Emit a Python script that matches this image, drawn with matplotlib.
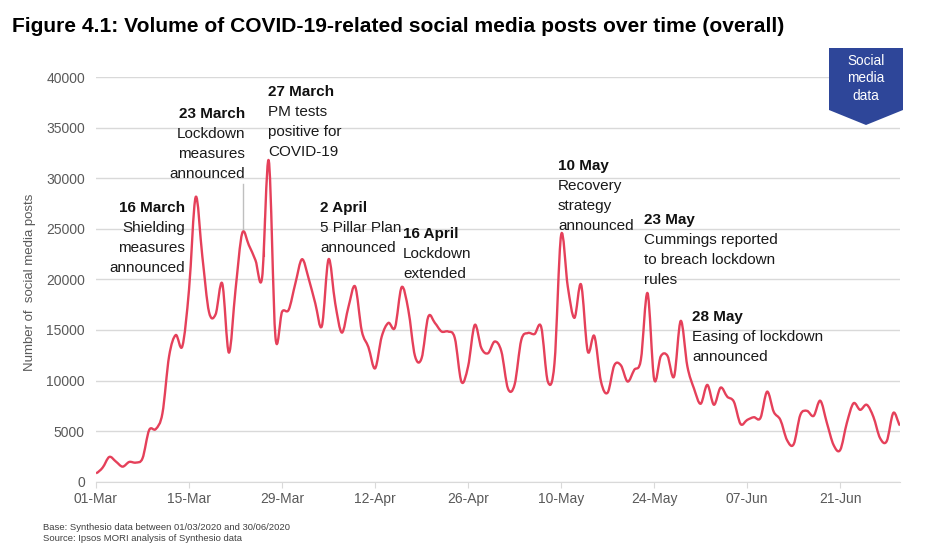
import numpy as np
import matplotlib
matplotlib.use("Agg")
import matplotlib.pyplot as plt
from matplotlib.path import Path
from matplotlib.patches import PathPatch, Polygon

plt.rcParams["font.family"] = ["Liberation Sans", "DejaVu Sans"]

W, H = 928, 553

# daily post counts from 01-Mar to 30-Jun
posts = [
    825, 1385, 2440, 1980, 1480, 1945, 1880, 2300, 5100, 5200,
    6760, 12400, 14500, 13400, 19000, 28150, 22300, 16800, 16550, 19600,
    12760, 19000, 24570, 23400, 21900, 20200, 31760, 14350, 16800, 17000,
    19600, 22000, 20100, 17640, 15400, 22000, 17640, 14740, 17300, 19300,
    14900, 13300, 11200, 14350, 15700, 15250, 19240, 17000, 12440, 12200,
    16300, 15700, 14850, 14850, 14200, 9870, 11400, 15500, 13200, 12700,
    13860, 12900, 9200, 9600, 14000, 14700, 14600, 15300, 9900, 11700,
    24400, 19300, 16200, 19500, 12900, 14400, 9900, 8800, 11500, 11500,
    9900, 11050, 12050, 18650, 10130, 12400, 12450, 10400, 15900, 11400,
    9200, 7700, 9570, 7600, 9300, 8400, 7900, 5700, 6100, 6370,
    6300, 8900, 6900, 6100, 4100, 3700, 6600, 7000, 6500, 8000,
    5800, 3630, 3130, 5800, 7750, 7100, 7600, 6400, 4300, 4000,
    6800, 5550,
]
tick_days = [0, 14, 28, 42, 56, 70, 84, 98, 112]
tick_labels = ["01-Mar", "15-Mar", "29-Mar", "12-Apr", "26-Apr", "10-May", "24-May", "07-Jun", "21-Jun"]
y_ticks = [0, 5000, 10000, 15000, 20000, 25000, 30000, 35000, 40000]

title = "Figure 4.1: Volume of COVID-19-related social media posts over time (overall)"
y_label = "Number of  social media posts"
footnotes = ["Base: Synthesio data between 01/03/2020 and 30/06/2020", "Source: Ipsos MORI analysis of Synthesio data"]
badge_lines = ["Social", "media", "data"]

notes = [
    ("16 March", ["Shielding", "measures", "announced"], 185, 212, "right"),
    ("23 March", ["Lockdown", "measures", "announced"], 245, 118, "right"),
    ("27 March", ["PM tests", "positive for", "COVID-19"], 268, 96, "left"),
    ("2 April", ["5 Pillar Plan", "announced"], 320, 212, "left"),
    ("16 April", ["Lockdown", "extended"], 403, 238, "left"),
    ("10 May", ["Recovery", "strategy", "announced"], 558, 170, "left"),
    ("23 May", ["Cummings reported", "to breach lockdown", "rules"], 644, 224, "left"),
    ("28 May", ["Easing of lockdown", "announced"], 692, 321, "left"),
]


def fx(px):
    return px / W


def fy(py):
    return 1 - py / H


fig = plt.figure(figsize=(W / 100, H / 100), dpi=100)
ax = fig.add_axes([fx(96), fy(481.6), fx(900 - 96), (481.6 - 77.3) / H])

days = np.arange(len(posts))
values = np.array(posts, dtype=float)

# smoothed line like the office chart: bezier through every daily value
verts = [(days[0], values[0])]
codes = [Path.MOVETO]
for i in range(len(days) - 1):
    prev_v = values[max(i - 1, 0)]
    next_v = values[min(i + 2, len(values) - 1)]
    verts.append((days[i] + 1 / 3, values[i] + (values[i + 1] - prev_v) / 6))
    verts.append((days[i + 1] - 1 / 3, values[i + 1] - (next_v - values[i]) / 6))
    verts.append((days[i + 1], values[i + 1]))
    codes += [Path.CURVE4, Path.CURVE4, Path.CURVE4]
ax.add_patch(PathPatch(Path(verts, codes), fill=False, edgecolor="#e5405a", linewidth=1.7,
                       joinstyle="round", zorder=3))

ax.set_xlim(0, 121)
ax.set_ylim(0, 40000)
ax.set_xticks(tick_days)
ax.set_xticklabels(tick_labels)
ax.set_yticks(y_ticks)
ax.grid(True, axis="y", color="#d9d9d9", linewidth=1)
ax.set_axisbelow(True)
for side in ["top", "right", "left"]:
    ax.spines[side].set_visible(False)
ax.spines["bottom"].set_color("#d9d9d9")
ax.tick_params(axis="y", length=0, labelsize=10, labelcolor="#595959", pad=8)
ax.tick_params(axis="x", length=4, color="#d9d9d9", labelsize=10, labelcolor="#595959", pad=3.5)

fig.text(fx(30), fy(282), y_label, rotation=90, ha="center", va="center", fontsize=9.5, color="#595959")
fig.text(fx(12), fy(27), title, ha="left", va="center", fontsize=15.1, fontweight="bold", color="black")
for i, line in enumerate(footnotes):
    fig.text(fx(43), fy(530 + i * 11), line, ha="left", va="baseline", fontsize=6.8, color="#404040")

# annotations
for date, lines, x, y, ha in notes:
    fig.text(fx(x), fy(y), date, ha=ha, va="baseline", fontsize=11, fontweight="bold", color="#111111")
    for i, line in enumerate(lines):
        fig.text(fx(x), fy(y + 20 * (i + 1)), line, ha=ha, va="baseline", fontsize=11, color="#1a1a1a")

# leader lines
fig.add_artist(plt.Line2D([fx(242.7), fx(242.7)], [fy(184), fy(229)], color="#bfbfbf", linewidth=1))
fig.add_artist(plt.Line2D([fx(263.7), fx(263.7)], [fy(218), fy(256)], color="#e5405a", linewidth=0.8))

# badge
fig.add_artist(Polygon(
    [(fx(829), fy(48)), (fx(903), fy(48)), (fx(903), fy(110)), (fx(866), fy(125)), (fx(829), fy(110))],
    closed=True, facecolor="#2e4699", edgecolor="none", transform=fig.transFigure, zorder=5,
))
for i, line in enumerate(badge_lines):
    fig.text(fx(866), fy(65 + i * 17.5), line, ha="center", va="baseline", fontsize=9.8, color="white", zorder=6)

fig.savefig("out.png", dpi=100)
plt.close()
